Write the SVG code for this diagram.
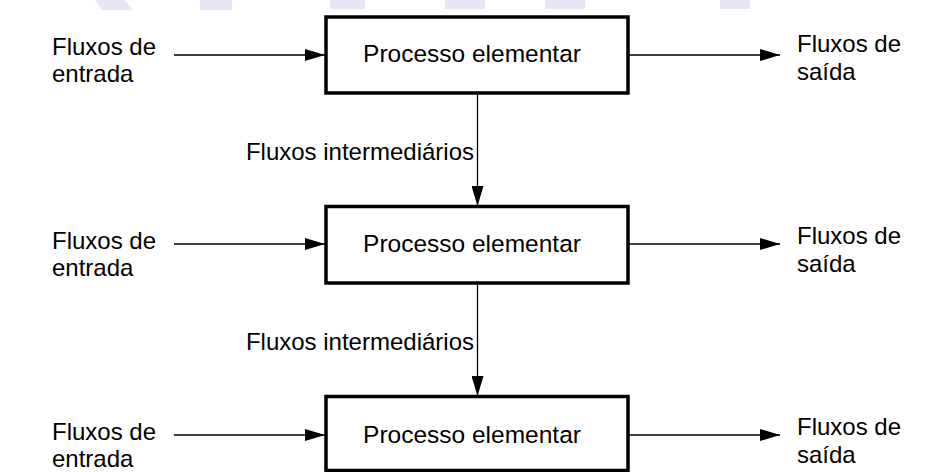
<svg xmlns="http://www.w3.org/2000/svg" width="944" height="472" viewBox="0 0 944 472">
<style>
text{font-family:"Liberation Sans",Arial,sans-serif;fill:#000}
.lbl{font-size:24px}
.bl{font-size:24.5px}
.box{fill:#fff;stroke:#000;stroke-width:3.5}
.ln{stroke:#000;stroke-width:1.3;fill:none}
.wm{fill:#e6e6f5}
</style>
<defs>
<marker id="ah" markerWidth="20" markerHeight="12" refX="20" refY="6" orient="auto" markerUnits="userSpaceOnUse">
<path d="M0,0 L20,6 L0,12 Z" fill="#000"/>
</marker>
</defs>
<rect width="944" height="472" fill="#fff"/>
<g id="watermark">
<polygon class="wm" points="95,0 125,0 132,10 102,10"/>
<rect class="wm" x="200" y="0" width="32" height="10"/>
<rect class="wm" x="330" y="0" width="35" height="9"/>
<rect class="wm" x="445" y="0" width="40" height="9"/>
<rect class="wm" x="545" y="0" width="40" height="9"/>
<rect class="wm" x="720" y="0" width="30" height="9"/>
</g>
<g id="connectors">
<line class="ln" x1="174" y1="55" x2="325" y2="55" marker-end="url(#ah)"/>
<line class="ln" x1="629" y1="55" x2="780" y2="55" marker-end="url(#ah)"/>
<line class="ln" x1="174" y1="244" x2="325" y2="244" marker-end="url(#ah)"/>
<line class="ln" x1="629" y1="244" x2="780" y2="244" marker-end="url(#ah)"/>
<line class="ln" x1="174" y1="435" x2="325" y2="435" marker-end="url(#ah)"/>
<line class="ln" x1="629" y1="435" x2="780" y2="435" marker-end="url(#ah)"/>
<line class="ln" x1="477.5" y1="93" x2="477.5" y2="206" marker-end="url(#ah)"/>
<line class="ln" x1="477.5" y1="283" x2="477.5" y2="396" marker-end="url(#ah)"/>
</g>
<g id="node1">
<rect class="box" x="326" y="17" width="302" height="76"/>
<text class="bl" x="472" y="62" text-anchor="middle">Processo elementar</text>
</g>
<g id="node2">
<rect class="box" x="326" y="206.5" width="302" height="76.5"/>
<text class="bl" x="472" y="252" text-anchor="middle">Processo elementar</text>
</g>
<g id="node3">
<rect class="box" x="326" y="396.5" width="302" height="74"/>
<text class="bl" x="472" y="443" text-anchor="middle">Processo elementar</text>
</g>
<g id="labels">
<text class="lbl" x="52" y="55">Fluxos de</text>
<text class="lbl" x="52" y="82">entrada</text>
<text class="lbl" x="797" y="52">Fluxos de</text>
<text class="lbl" x="797" y="80">saída</text>
<text class="lbl" x="52" y="249">Fluxos de</text>
<text class="lbl" x="52" y="276">entrada</text>
<text class="lbl" x="797" y="244">Fluxos de</text>
<text class="lbl" x="797" y="272">saída</text>
<text class="lbl" x="52" y="440">Fluxos de</text>
<text class="lbl" x="52" y="467">entrada</text>
<text class="lbl" x="797" y="435">Fluxos de</text>
<text class="lbl" x="797" y="463">saída</text>
<text class="lbl" x="474" y="160" text-anchor="end">Fluxos intermediários</text>
<text class="lbl" x="474" y="350" text-anchor="end">Fluxos intermediários</text>
</g>
</svg>
